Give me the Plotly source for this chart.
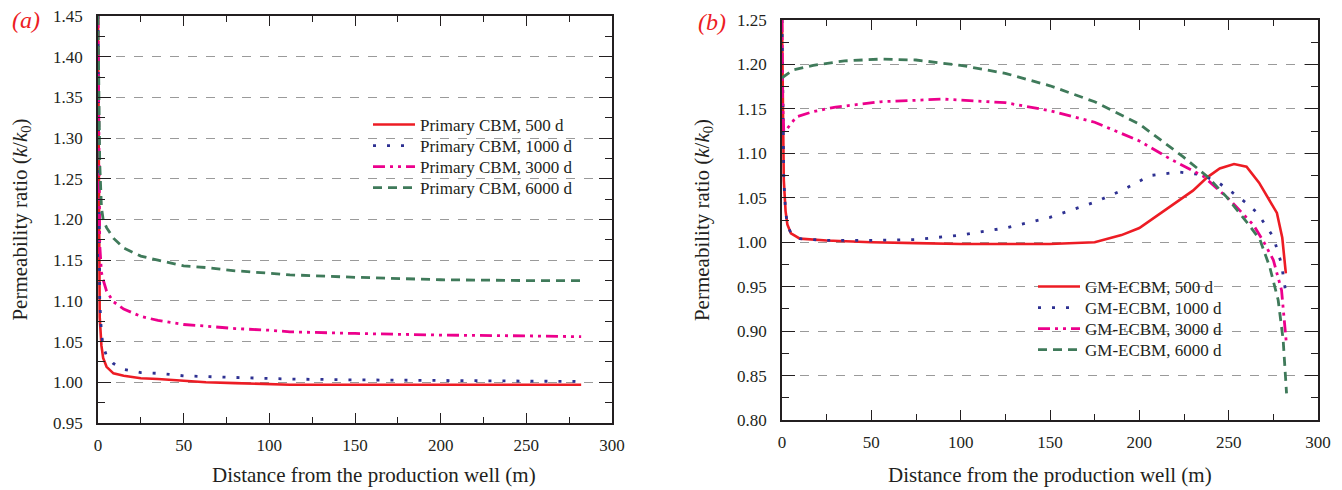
import plotly.graph_objects as go

# ---------------- Panel (a): Primary CBM ----------------
xa = [0, 0.5, 1, 2, 3, 5, 9, 15, 25, 35, 50, 63, 80, 100, 112, 150, 200, 250, 282]
a_500 = [1.45, 1.15, 1.08, 1.045, 1.03, 1.019, 1.011, 1.008, 1.005, 1.004, 1.002, 1.000, 0.999, 0.998, 0.997, 0.997, 0.997, 0.997, 0.997]
a_1000 = [1.45, 1.18, 1.10, 1.06, 1.045, 1.032, 1.023, 1.016, 1.012, 1.011, 1.008, 1.007, 1.006, 1.005, 1.004, 1.003, 1.002, 1.001, 1.001]
a_3000 = [1.45, 1.25, 1.17, 1.135, 1.126, 1.112, 1.099, 1.09, 1.081, 1.076, 1.071, 1.069, 1.066, 1.064, 1.062, 1.060, 1.058, 1.057, 1.056]
a_6000 = [1.45, 1.33, 1.27, 1.215, 1.20, 1.19, 1.177, 1.165, 1.155, 1.15, 1.143, 1.141, 1.137, 1.134, 1.132, 1.129, 1.126, 1.125, 1.125]

# ---------------- Panel (b): GM-ECBM ----------------
xb_500 = [0, 0.5, 1, 2, 3, 5, 10, 25, 50, 75, 100, 125, 150, 175, 190, 200, 210, 220, 230, 238, 245, 253, 260, 267, 272, 277, 280, 282]
b_500 = [1.25, 1.12, 1.07, 1.035, 1.02, 1.01, 1.004, 1.002, 1.0, 0.999, 0.998, 0.998, 0.998, 1.0, 1.008, 1.016, 1.03, 1.043, 1.058, 1.073, 1.083, 1.088, 1.085, 1.067, 1.05, 1.033, 1.005, 0.965]
xb_1000 = [0, 0.5, 1, 2, 3, 5, 10, 25, 50, 75, 100, 125, 150, 175, 190, 206, 222, 235, 245, 252, 260, 266, 270, 275, 279.5, 282]
b_1000 = [1.25, 1.12, 1.07, 1.035, 1.02, 1.01, 1.004, 1.002, 1.002, 1.003, 1.008, 1.016, 1.028, 1.045, 1.058, 1.075, 1.079, 1.076, 1.066, 1.056, 1.044, 1.033, 1.021, 1.006, 0.976, 0.943]
xb_3000 = [0, 0.3, 1, 3, 8, 17.5, 30, 55, 90, 125, 150, 175, 200, 206, 217, 236, 251, 264, 270, 275, 279.6, 282.4]
b_3000 = [1.25, 1.16, 1.125, 1.128, 1.141, 1.147, 1.152, 1.158, 1.161, 1.157, 1.148, 1.135, 1.114, 1.107, 1.094, 1.074, 1.047, 1.019, 0.999, 0.98, 0.946, 0.884]
xb_6000 = [0, 6.3, 17.5, 35, 55, 75, 100, 125, 150, 175, 200, 213.4, 224.6, 238, 248.8, 260, 267.5, 273, 277.7, 280.5, 282.4]
b_6000 = [1.185, 1.194, 1.199, 1.204, 1.206, 1.205, 1.199, 1.19, 1.176, 1.158, 1.133, 1.113, 1.096, 1.074, 1.051, 1.023, 1.003, 0.972, 0.935, 0.89, 0.83]

labels_a = ["Primary CBM, 500 d", "Primary CBM, 1000 d", "Primary CBM, 3000 d", "Primary CBM, 6000 d"]
labels_b = ["GM-ECBM, 500 d", "GM-ECBM, 1000 d", "GM-ECBM, 3000 d", "GM-ECBM, 6000 d"]
x_title = "Distance from the production well (m)"
y_title = "Permeability ratio (<i>k</i>/<i>k</i><sub>0</sub>)"

RED = "#ED1C24"
BLUE = "#2E3192"
MAG = "#EC008C"
GREEN = "#3F7A5A"
styles = [
    dict(color=RED, width=2.6, dash="solid"),
    dict(color=BLUE, width=2.8, dash="3px,11px"),
    dict(color=MAG, width=2.8, dash="12px,5px,3px,5px,3px,5px"),
    dict(color=GREEN, width=2.8, dash="9px,6px"),
]

FONT = "'Liberation Serif', 'Times New Roman', serif"
INK = "#231F20"
# The page body adds an 8px margin, so the figure is drawn 8px smaller and every
# reference pixel position below is shifted by that offset.
OFF = 8
W, H = 1342 - OFF, 490 - OFF


def px_x(p):
    return (p - OFF) / W


def px_y(p):
    return 1 - (p - OFF) / H


# legend rows (reference pixel centres)
leg_a_x, leg_a_rows = 368, [125, 146, 167, 188]
leg_b_x, leg_b_rows = 1033, [287, 308, 329, 350]

fig = go.Figure()
legends = {}
for i, (ys, lab, st) in enumerate(zip([a_500, a_1000, a_3000, a_6000], labels_a, styles)):
    name = "legend" if i == 0 else f"legend{i + 1}"
    fig.add_trace(go.Scatter(x=xa, y=ys, name=lab, mode="lines", line=st, showlegend=True,
                             xaxis="x", yaxis="y", legend=name))
    legends[name] = dict(x=px_x(leg_a_x), y=px_y(leg_a_rows[i]), xanchor="left", yanchor="middle",
                         bgcolor="rgba(0,0,0,0)", font=dict(family=FONT, size=17, color=INK),
                         itemwidth=42, visible=True)
for i, (xs, ys, lab, st) in enumerate(zip([xb_500, xb_1000, xb_3000, xb_6000],
                                          [b_500, b_1000, b_3000, b_6000], labels_b, styles)):
    name = f"legend{i + 5}"
    fig.add_trace(go.Scatter(x=xs, y=ys, name=lab, mode="lines", line=st, showlegend=True,
                             xaxis="x2", yaxis="y2", legend=name))
    legends[name] = dict(x=px_x(leg_b_x), y=px_y(leg_b_rows[i]), xanchor="left", yanchor="middle",
                         bgcolor="rgba(0,0,0,0)", font=dict(family=FONT, size=17, color=INK),
                         itemwidth=42, visible=True)

common_x = dict(range=[0, 300], dtick=50, ticks="inside", ticklen=10, tickwidth=1.3,
                tickcolor=INK, showline=True, linecolor=INK, linewidth=1.5,
                mirror="allticks", showgrid=False, zeroline=False, automargin=False,
                ticklabelstandoff=6, ticklabeloverflow="allow",
                minor=dict(dtick=25, ticks="inside", ticklen=6, tickcolor=INK),
                tickfont=dict(family=FONT, size=17, color=INK))
common_y = dict(ticks="inside", ticklen=13, tickwidth=1.3, tickcolor=INK,
                showline=True, linecolor=INK, linewidth=1.5, mirror="allticks",
                showgrid=True, gridcolor="#9A9A9A", griddash="dash", gridwidth=1,
                zeroline=False, tickformat=".2f", automargin=False,
                ticklabelstandoff=10, ticklabeloverflow="allow",
                minor=dict(dtick=0.025, ticks="inside", ticklen=7, tickcolor=INK),
                tickfont=dict(family=FONT, size=17, color=INK),
                title=dict(text=y_title, font=dict(family=FONT, size=21, color=INK), standoff=22))

fig.update_layout(
    width=W, height=H,
    showlegend=True,
    margin=dict(l=0, r=0, t=0, b=0, autoexpand=False),
    paper_bgcolor="white", plot_bgcolor="white",
    xaxis=dict(common_x, domain=[px_x(98), px_x(612)], anchor="y"),
    yaxis=dict(common_y, domain=[px_y(423), px_y(16)], range=[0.95, 1.45], dtick=0.05, anchor="x"),
    xaxis2=dict(common_x, domain=[px_x(782), px_x(1318)], anchor="y2"),
    yaxis2=dict(common_y, domain=[px_y(420), px_y(20)], range=[0.80, 1.25], dtick=0.05, anchor="x2"),
    annotations=[
        dict(text="<i>(a)</i>", x=px_x(10), y=px_y(20), xref="paper", yref="paper",
             xanchor="left", yanchor="middle", showarrow=False,
             font=dict(family=FONT, size=24, color=RED)),
        dict(text="<i>(b)</i>", x=px_x(696), y=px_y(22), xref="paper", yref="paper",
             xanchor="left", yanchor="middle", showarrow=False,
             font=dict(family=FONT, size=24, color=RED)),
        dict(text=x_title, x=px_x(374), y=px_y(475), xref="paper", yref="paper",
             xanchor="center", yanchor="middle", showarrow=False,
             font=dict(family=FONT, size=21, color=INK)),
        dict(text=x_title, x=px_x(1050), y=px_y(475), xref="paper", yref="paper",
             xanchor="center", yanchor="middle", showarrow=False,
             font=dict(family=FONT, size=21, color=INK)),
    ],
    **legends,
)

fig.write_html("out.html")
